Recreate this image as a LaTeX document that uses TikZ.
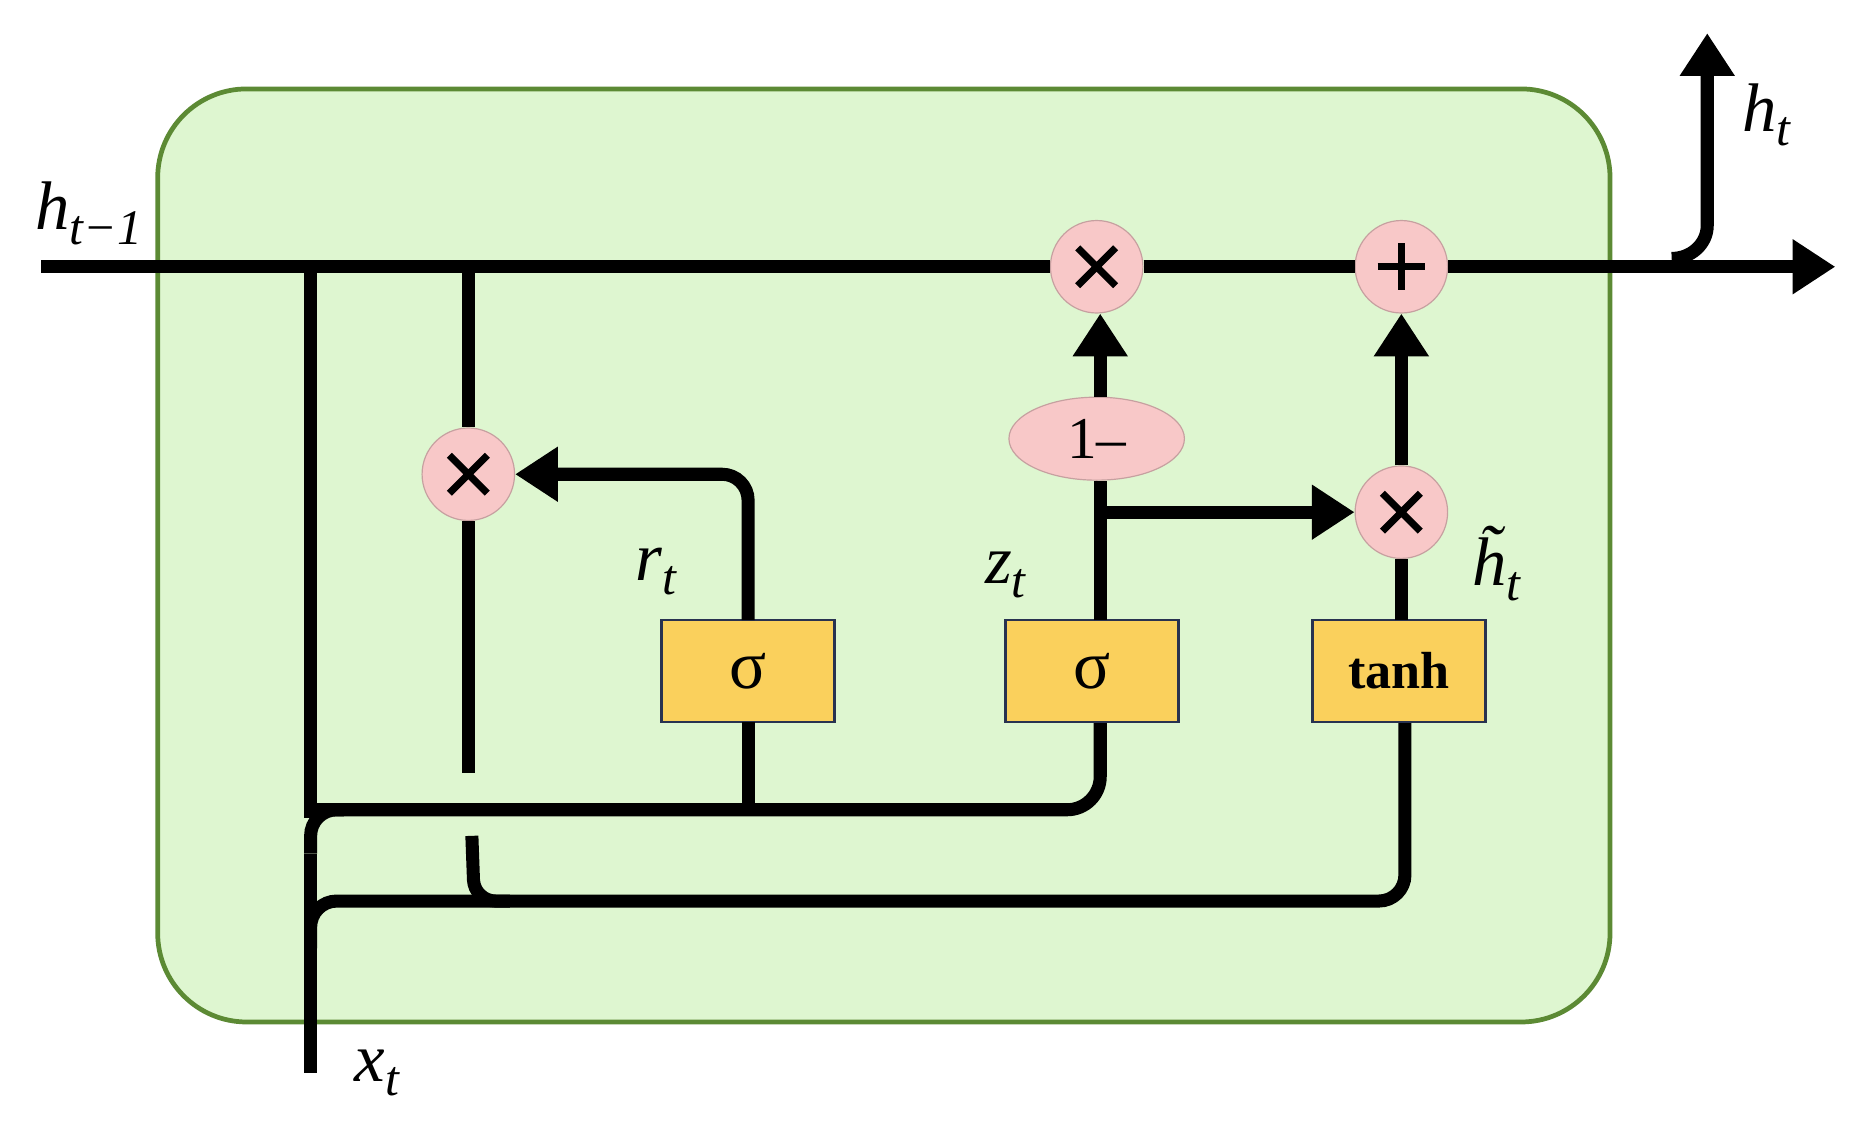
\documentclass[tikz,border=0pt]{standalone}
\usepackage{fontspec}
\setmainfont{Liberation Serif}
\usetikzlibrary{arrows.meta,shapes.geometric}
\definecolor{cellg}{RGB}{222,246,208}
\definecolor{cellb}{RGB}{92,138,52}
\definecolor{opk}{RGB}{248,200,200}
\definecolor{gate}{RGB}{250,208,92}
\definecolor{gateb}{RGB}{40,50,80}
\newcommand{\sbs}[1]{\raisebox{-12pt}{\fontsize{42}{44}\selectfont #1}}
\begin{document}
\begin{tikzpicture}[x=1pt,y=-1pt,
  wire/.style={line width=11pt,line cap=butt},
  arr/.style={wire,-{Triangle[length=36pt,width=44pt]}},
  op/.style={circle,fill=opk,draw=opk!80!black,line width=1pt,minimum size=78pt,inner sep=0pt},
  gbox/.style={rectangle,fill=gate,draw=gateb,line width=2pt,minimum width=146pt,minimum height=86pt,inner sep=0pt},
  lab/.style={font=\fontsize{58}{60}\selectfont\itshape}]
\useasboundingbox (0,0) rectangle (1568,952);
\node[draw=cellb,line width=4pt,fill=cellg,rounded corners=75pt,minimum width=1225pt,minimum height=787pt,inner sep=0pt] (cell) at (745.5,468.5) {};
\coordinate (hin) at (35,225);
\coordinate (hout) at (1548,225);
\coordinate (hup) at (1440,28);
\coordinate (xin) at (262,905);
\node[gbox] (sr) at (631,566) {\fontsize{58}{60}\selectfont σ};
\node[gbox] (sz) at (921,566) {\fontsize{58}{60}\selectfont σ};
\node[gbox] (th) at (1180,566) {\fontsize{44}{46}\selectfont\bfseries tanh};
\node[op] (m1) at (925,225) {};
\node[op] (pl) at (1182,225) {};
\node[op] (mr) at (395,400) {};
\node[op] (mh) at (1182,432) {};
\node[ellipse,fill=opk,draw=opk!80!black,line width=1pt,minimum width=148pt,minimum height=70pt,inner sep=0pt] (om) at (925,370) {\fontsize{50}{52}\selectfont 1–};
\foreach \n in {m1,mr,mh}{\draw[line width=6pt] (\n.center) ++(-16,-16) -- ++(32,32) ++(-32,0) -- ++(32,-32);}
\draw[line width=6pt] (pl.center) ++(-20,0) -- ++(40,0) (pl.center) ++(0,-20) -- ++(0,40);
% main line
\draw[wire] (hin) -- (m1);
\draw[wire] (m1) -- (pl);
\draw[arr] (pl) -- (hout);
\draw[arr] (1410,218) to[out=0,in=-90] (1440,190) -- (hup);
% left vertical lines
\draw[wire] (262,225) -- (262,690);
\draw[wire,rounded corners=28pt] (262,683) -- (928,683) -- (928,610);
\draw[wire] (xin) -- (262,720);
\draw[wire,rounded corners=22pt] (262,720) -- (262,683) -- (290,683);
\draw[wire,rounded corners=22pt] (262,800) -- (262,760) -- (1185,760) -- (1185,610);
\draw[wire] (395,225) -- (mr);
\draw[wire] (mr) -- (395,652);
\draw[wire,rounded corners=18pt] (398,705) -- (400,760) -- (430,760);
% reset gate
\draw[wire] (631,683) -- (631,609);
\draw[arr,rounded corners=22pt] (631,523) -- (631,400) -- (mr.east);
% update gate
\draw[wire] (928,523) -- (om.south -| 928,0);
\draw[arr] (om.north -| 928,0) -- (m1.south -| 928,0);
\draw[arr] (928,432) -- (mh.west);
% candidate
\draw[wire] (1182,523) -- (mh);
\draw[arr] (mh) -- (pl.south);
% labels
\node[lab] (l1) at (75,180) {h\sbs{t−1}};
\node[lab] (l2) at (1490,97) {h\sbs{t}};
\node[lab] (l3) at (553,482) {r\sbs{t}};
\node[lab] (l4) at (848,485) {z\sbs{t}};
\node[lab] (l5) at (1262,475) {\~{h}\sbs{t}};
\node[lab] (l6) at (318,905) {x\sbs{t}};
\end{tikzpicture}
\end{document}
